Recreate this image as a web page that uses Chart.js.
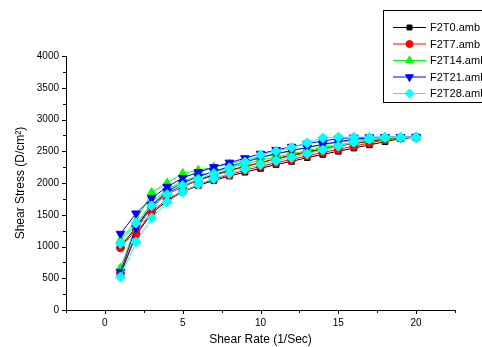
<!DOCTYPE html>
<html lang="en">
<head>
<meta charset="UTF-8" />
<title>Shear Stress vs Shear Rate</title>
<script src="https://cdn.jsdelivr.net/npm/chart.js"></script>
<style>
    html, body { margin: 0; padding: 0; background: #fff; }
    canvas { display: block; }
</style>
</head>
<body>
<canvas id="grafico" width="482" height="347"></canvas>
<script>
    // shear rate steps (up sweep 1 -> 20, down sweep 20 -> 1)
    const shearRate = [1, 2, 3, 4, 5, 6, 7, 8, 9, 10, 11, 12, 13, 14, 15, 16, 17, 18, 19, 20];

    // values listed by shear rate 1..20
    const f2t0Up    = [560, 1180, 1520, 1720, 1860, 1960, 2040, 2110, 2170, 2230, 2290, 2340, 2400, 2450, 2500, 2550, 2600, 2650, 2700, 2720];
    const f2t0Down  = [1000, 1300, 1640, 1840, 1960, 2050, 2130, 2200, 2260, 2320, 2380, 2440, 2490, 2540, 2590, 2620, 2660, 2690, 2710, 2720];
    const f2t7Up    = [580, 1200, 1550, 1740, 1870, 1970, 2060, 2130, 2200, 2260, 2320, 2370, 2430, 2480, 2530, 2580, 2630, 2680, 2710, 2720];
    const f2t7Down  = [980, 1260, 1620, 1820, 1940, 2040, 2120, 2190, 2260, 2320, 2380, 2430, 2480, 2530, 2580, 2620, 2660, 2690, 2710, 2720];
    const f2t14Up   = [660, 1330, 1700, 1900, 2030, 2110, 2180, 2240, 2300, 2360, 2410, 2460, 2510, 2560, 2600, 2640, 2680, 2700, 2715, 2720];
    const f2t14Down = [1100, 1400, 1850, 2000, 2150, 2200, 2250, 2300, 2360, 2410, 2460, 2510, 2560, 2600, 2640, 2670, 2700, 2715, 2720, 2720];
    const f2t21Up   = [600, 1300, 1650, 1870, 2000, 2100, 2180, 2260, 2330, 2400, 2460, 2510, 2560, 2610, 2650, 2690, 2710, 2720, 2720, 2720];
    const f2t21Down = [1200, 1520, 1760, 1940, 2080, 2170, 2250, 2320, 2390, 2460, 2520, 2570, 2620, 2660, 2700, 2715, 2720, 2720, 2720, 2720];
    const f2t28Up   = [520, 1070, 1450, 1700, 1860, 1980, 2070, 2150, 2220, 2290, 2350, 2400, 2460, 2520, 2580, 2640, 2690, 2720, 2720, 2720];
    const f2t28Down = [1050, 1370, 1640, 1820, 1960, 2060, 2150, 2240, 2330, 2440, 2500, 2560, 2630, 2710, 2720, 2720, 2720, 2720, 2720, 2720];

    const seriesNames = ["F2T0.amb", "F2T7.amb", "F2T14.amb", "F2T21.amb", "F2T28.amb"];
    const seriesColors = ["#000000", "#ff0000", "#00ff00", "#0000ff", "#00ffff"];

    const yTicks = [0, 500, 1000, 1500, 2000, 2500, 3000, 3500, 4000];
    const xTicks = [0, 5, 10, 15, 20];

    function loop(up, down) {
        const pts = shearRate.map((x, i) => ({ x: x, y: up[i] }));
        for (let i = shearRate.length - 1; i >= 0; i--) pts.push({ x: shearRate[i], y: down[i] });
        return pts;
    }

    const estilos = [
        { pointStyle: 'rect', rotation: 0, radius: 4 },
        { pointStyle: 'circle', rotation: 0, radius: 4 },
        { pointStyle: 'triangle', rotation: 0, radius: 5 },
        { pointStyle: 'triangle', rotation: 180, radius: 5 },
        { pointStyle: 'rectRot', rotation: 0, radius: 5 }
    ];

    const dados = [
        loop(f2t0Up, f2t0Down),
        loop(f2t7Up, f2t7Down),
        loop(f2t14Up, f2t14Down),
        loop(f2t21Up, f2t21Down),
        loop(f2t28Up, f2t28Down)
    ];

    const datasets = dados.map((d, i) => ({
        label: seriesNames[i],
        data: d,
        showLine: true,
        borderColor: seriesColors[i],
        backgroundColor: seriesColors[i],
        borderWidth: 1,
        pointStyle: estilos[i].pointStyle,
        rotation: estilos[i].rotation,
        pointRadius: estilos[i].radius,
        pointBorderWidth: 1,
        tension: 0,
        order: 4 - i
    }));

    // ticks saindo para fora dos eixos (maiores e menores)
    const ticksPlugin = {
        id: 'ticksFora',
        afterDraw(chart) {
            const ctx = chart.ctx;
            const xs = chart.scales.x, ys = chart.scales.y;
            const area = chart.chartArea;
            ctx.save();
            ctx.strokeStyle = '#000';
            ctx.lineWidth = 1;
            ctx.beginPath();
            for (let v = -2.5; v <= 22.5; v += 2.5) {
                const px = Math.round(xs.getPixelForValue(v)) + 0.5;
                const len = (v % 5 === 0) ? 4 : 3;
                ctx.moveTo(px, area.bottom);
                ctx.lineTo(px, area.bottom + len);
            }
            for (let v = 0; v <= 4000; v += 250) {
                const py = Math.round(ys.getPixelForValue(v)) + 0.5;
                const len = (v % 500 === 0) ? 4 : 3;
                ctx.moveTo(area.left, py);
                ctx.lineTo(area.left - len, py);
            }
            ctx.stroke();
            ctx.restore();
        }
    };

    // legenda no estilo do Origin (linha + marcador dentro de uma caixa)
    const legendaPlugin = {
        id: 'legendaCaixa',
        afterDraw(chart) {
            const ctx = chart.ctx;
            ctx.save();
            ctx.strokeStyle = '#000';
            ctx.lineWidth = 1;
            ctx.strokeRect(383.5, 10.5, 110, 92);
            ctx.font = '11px "Liberation Sans", Arial, sans-serif';
            ctx.textBaseline = 'middle';
            seriesNames.forEach((nome, i) => {
                const y = 27 + i * 16.5;
                ctx.strokeStyle = seriesColors[i];
                ctx.beginPath();
                ctx.moveTo(393, y + 0.5);
                ctx.lineTo(426, y + 0.5);
                ctx.stroke();
                ctx.fillStyle = seriesColors[i];
                Chart.helpers.drawPoint(ctx, {
                    pointStyle: estilos[i].pointStyle,
                    rotation: estilos[i].rotation,
                    radius: estilos[i].radius - 0.5,
                    borderWidth: 1
                }, 409.5, y + 0.5);
                ctx.fillStyle = '#000';
                ctx.fillText(nome, 430, y + 1);
            });
            ctx.restore();
        }
    };

    const ctx = document.getElementById('grafico').getContext('2d');
    new Chart(ctx, {
        type: 'scatter',
        data: { datasets: datasets },
        options: {
            responsive: false,
            animation: false,
            layout: { padding: { left: 0, top: 56, right: 27, bottom: 0 } },
            plugins: {
                legend: { display: false },
                tooltip: { enabled: false }
            },
            scales: {
                x: {
                    type: 'linear',
                    min: -2.5,
                    max: 22.5,
                    afterFit(scale) { scale.height = 37; },
                    afterBuildTicks(scale) { scale.ticks = xTicks.map(v => ({ value: v })); },
                    grid: { display: false, drawTicks: false },
                    border: { display: true, color: '#000', width: 1 },
                    ticks: {
                        color: '#000',
                        padding: 7,
                        font: { family: '"Liberation Sans", Arial, sans-serif', size: 10 },
                        maxRotation: 0,
                        callback: v => String(v)
                    },
                    title: {
                        display: true,
                        text: 'Shear Rate (1/Sec)',
                        color: '#000',
                        font: { family: '"Liberation Sans", Arial, sans-serif', size: 12 },
                        padding: { top: 4, bottom: 0 }
                    }
                },
                y: {
                    type: 'linear',
                    min: 0,
                    max: 4000,
                    afterFit(scale) { scale.width = 66; },
                    afterBuildTicks(scale) { scale.ticks = yTicks.map(v => ({ value: v })); },
                    grid: { display: false, drawTicks: false },
                    border: { display: true, color: '#000', width: 1 },
                    ticks: {
                        color: '#000',
                        padding: 7,
                        font: { family: '"Liberation Sans", Arial, sans-serif', size: 10 },
                        callback: v => String(v)
                    },
                    title: {
                        display: true,
                        text: 'Shear Stress (D/cm²)',
                        color: '#000',
                        font: { family: '"Liberation Sans", Arial, sans-serif', size: 12 },
                        padding: { top: 13, bottom: 0 }
                    }
                }
            }
        },
        plugins: [ticksPlugin, legendaPlugin]
    });
</script>
</body>
</html>
